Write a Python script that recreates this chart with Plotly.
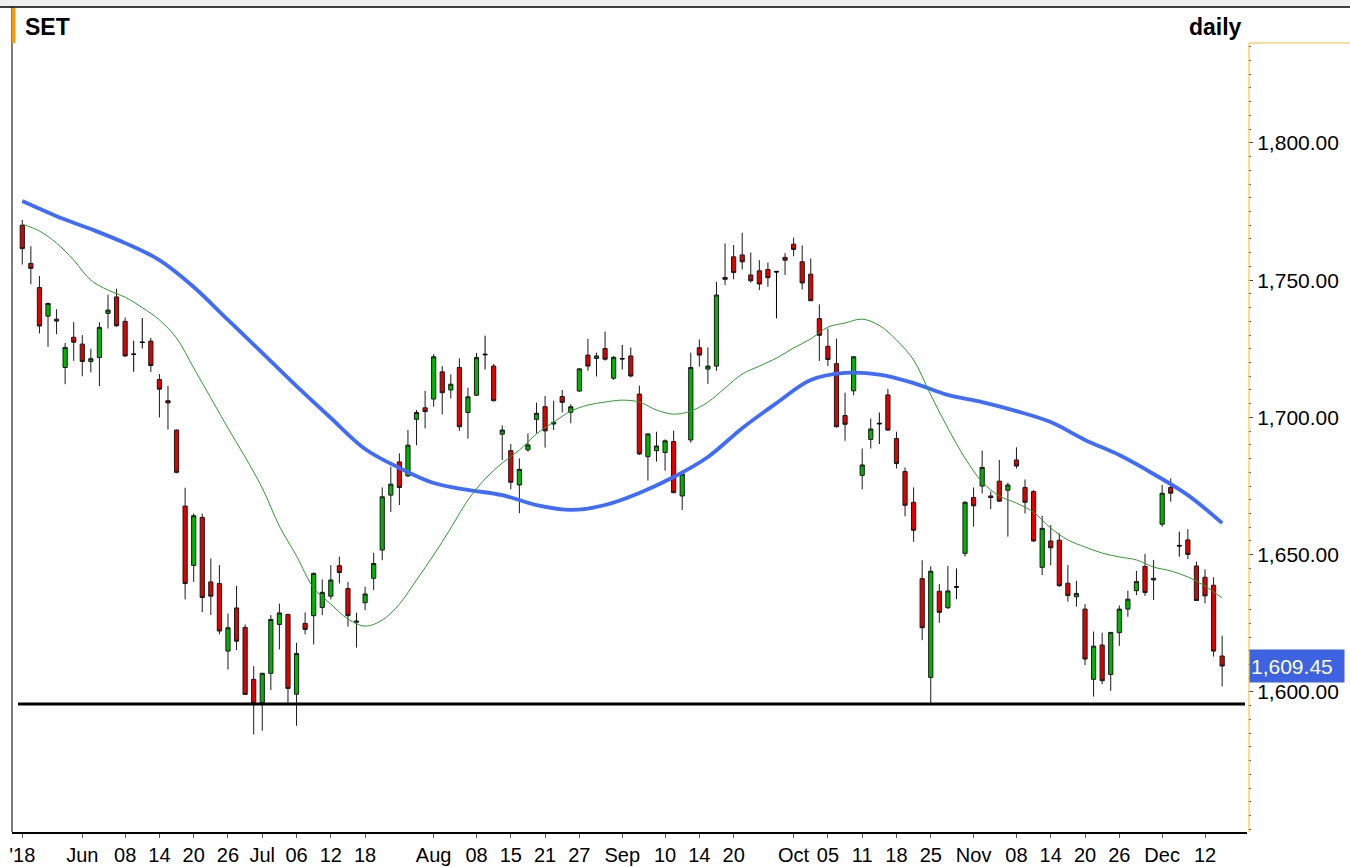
import plotly.graph_objects as go

# ---------------- data ----------------
dates = [
    "2018-05-22", "2018-05-23", "2018-05-24", "2018-05-25", "2018-05-28", "2018-05-30", "2018-05-31",
    "2018-06-01", "2018-06-04", "2018-06-05", "2018-06-06", "2018-06-07", "2018-06-08", "2018-06-11",
    "2018-06-12", "2018-06-13", "2018-06-14", "2018-06-15", "2018-06-18", "2018-06-19", "2018-06-20",
    "2018-06-21", "2018-06-22", "2018-06-25", "2018-06-26", "2018-06-27", "2018-06-28", "2018-06-29",
    "2018-07-02", "2018-07-03", "2018-07-04", "2018-07-05", "2018-07-06", "2018-07-09", "2018-07-10",
    "2018-07-11", "2018-07-12", "2018-07-13", "2018-07-16", "2018-07-17", "2018-07-18", "2018-07-19",
    "2018-07-20", "2018-07-23", "2018-07-24", "2018-07-25", "2018-07-26", "2018-07-31",
    "2018-08-01", "2018-08-02", "2018-08-03", "2018-08-06", "2018-08-07", "2018-08-08", "2018-08-09",
    "2018-08-10", "2018-08-14", "2018-08-15", "2018-08-16", "2018-08-17", "2018-08-20", "2018-08-21",
    "2018-08-22", "2018-08-23", "2018-08-24", "2018-08-27", "2018-08-28", "2018-08-29", "2018-08-30",
    "2018-08-31",
    "2018-09-03", "2018-09-04", "2018-09-05", "2018-09-06", "2018-09-07", "2018-09-10", "2018-09-11",
    "2018-09-12", "2018-09-13", "2018-09-14", "2018-09-17", "2018-09-18", "2018-09-19", "2018-09-20",
    "2018-09-21", "2018-09-24", "2018-09-25", "2018-09-26", "2018-09-27", "2018-09-28",
    "2018-10-01", "2018-10-02", "2018-10-03", "2018-10-04", "2018-10-05", "2018-10-08", "2018-10-09",
    "2018-10-10", "2018-10-11", "2018-10-12", "2018-10-16", "2018-10-17", "2018-10-18", "2018-10-19",
    "2018-10-22", "2018-10-24", "2018-10-25", "2018-10-26", "2018-10-29", "2018-10-30", "2018-10-31",
    "2018-11-01", "2018-11-02", "2018-11-05", "2018-11-06", "2018-11-07", "2018-11-08", "2018-11-09",
    "2018-11-12", "2018-11-13", "2018-11-14", "2018-11-15", "2018-11-16", "2018-11-19", "2018-11-20",
    "2018-11-21", "2018-11-22", "2018-11-23", "2018-11-26", "2018-11-27", "2018-11-28", "2018-11-29",
    "2018-11-30",
    "2018-12-03", "2018-12-04", "2018-12-06", "2018-12-07", "2018-12-11", "2018-12-12", "2018-12-13",
    "2018-12-14",
]

opens = [
    1770.0, 1756.1, 1747.3, 1736.9, 1735.8, 1718.2, 1729.2, 1726.7, 1720.4, 1721.8,
    1737.9, 1743.9, 1735.0, 1723.1, 1727.5, 1727.8, 1713.8, 1706.1, 1695.4, 1667.7,
    1646.1, 1663.6, 1640.1, 1639.5, 1614.9, 1630.6, 1623.5, 1604.6, 1596.1, 1606.8,
    1624.6, 1628.2, 1599.2, 1625.0, 1627.8, 1630.8, 1634.9, 1646.0, 1637.7, 1625.4,
    1632.5, 1641.4, 1651.7, 1671.7, 1683.8, 1678.7, 1699.3, 1703.5, 1706.7, 1716.6,
    1710.0, 1718.2, 1701.8, 1708.1, 1722.8, 1718.7, 1693.9, 1687.9, 1675.4, 1688.2,
    1699.3, 1703.9, 1697.6, 1707.6, 1701.9, 1709.6, 1722.7, 1721.5, 1725.1, 1714.3,
    1721.3, 1722.4, 1708.5, 1685.7, 1687.9, 1687.2, 1691.2, 1671.4, 1691.8, 1725.4,
    1717.6, 1718.7, 1751.0, 1758.5, 1759.2, 1751.9, 1753.4, 1753.9, 1753.2, 1758.3,
    1763.1, 1756.7, 1752.2, 1736.0, 1725.9, 1719.6, 1700.7, 1709.7, 1678.9, 1692.0,
    1697.9, 1708.2, 1692.3, 1680.3, 1669.1, 1641.3, 1605.3, 1636.7, 1630.7, 1638.4,
    1650.5, 1670.8, 1675.0, 1671.4, 1676.8, 1673.5, 1684.5, 1674.5, 1673.0, 1645.4,
    1655.0, 1655.3, 1639.6, 1634.7, 1630.2, 1604.6, 1617.1, 1606.4, 1621.6, 1630.2,
    1636.9, 1645.7, 1640.8, 1661.1, 1674.5, 1653.4, 1655.4, 1645.9, 1641.8, 1638.9,
    1613.1,
]
highs = [
    1771.9, 1762.4, 1751.5, 1741.9, 1739.4, 1727.1, 1734.7, 1730.0, 1725.0, 1734.7,
    1744.7, 1746.9, 1736.4, 1727.9, 1736.2, 1729.0, 1715.8, 1711.5, 1695.6, 1674.4,
    1665.0, 1665.0, 1648.6, 1646.2, 1628.6, 1638.6, 1624.6, 1609.4, 1607.0, 1628.0,
    1632.2, 1628.6, 1617.9, 1629.0, 1643.5, 1641.0, 1646.2, 1649.3, 1640.1, 1628.9,
    1638.3, 1650.7, 1674.5, 1682.0, 1686.9, 1695.4, 1702.7, 1709.7, 1723.1, 1718.7,
    1715.7, 1721.5, 1710.8, 1723.5, 1729.8, 1719.5, 1697.1, 1690.3, 1685.1, 1694.2,
    1705.4, 1707.8, 1706.1, 1710.0, 1704.8, 1717.9, 1728.6, 1723.6, 1731.3, 1722.4,
    1726.4, 1725.5, 1711.6, 1694.2, 1694.8, 1692.0, 1695.2, 1679.6, 1723.6, 1728.4,
    1725.5, 1749.4, 1763.4, 1762.8, 1767.3, 1760.1, 1757.3, 1756.4, 1753.4, 1759.8,
    1765.5, 1762.7, 1757.9, 1741.2, 1732.4, 1728.7, 1709.0, 1722.3, 1688.7, 1699.6,
    1701.8, 1710.4, 1694.8, 1681.8, 1674.5, 1648.0, 1645.8, 1639.3, 1645.9, 1645.0,
    1669.5, 1674.5, 1687.9, 1673.0, 1684.5, 1676.2, 1689.1, 1677.4, 1673.5, 1664.2,
    1660.8, 1657.8, 1646.2, 1640.5, 1632.0, 1622.0, 1621.6, 1621.7, 1631.5, 1636.9,
    1644.1, 1650.3, 1648.1, 1675.4, 1677.8, 1658.4, 1659.3, 1647.5, 1644.7, 1641.8,
    1620.5,
]
lows = [
    1755.7, 1748.5, 1730.6, 1725.7, 1730.3, 1712.1, 1720.6, 1715.0, 1716.4, 1711.4,
    1732.4, 1733.0, 1722.1, 1716.6, 1725.1, 1716.6, 1700.0, 1695.6, 1679.6, 1633.7,
    1640.1, 1629.1, 1628.0, 1621.0, 1608.2, 1615.3, 1598.9, 1584.5, 1585.9, 1600.7,
    1615.5, 1595.8, 1587.7, 1621.0, 1617.3, 1628.0, 1633.7, 1639.5, 1623.8, 1616.2,
    1629.8, 1637.1, 1648.0, 1665.6, 1668.1, 1678.4, 1689.9, 1696.0, 1703.9, 1701.1,
    1706.9, 1695.1, 1692.3, 1707.9, 1717.5, 1705.8, 1684.5, 1673.8, 1665.1, 1687.5,
    1694.2, 1689.0, 1695.4, 1701.8, 1697.9, 1709.4, 1717.0, 1714.9, 1720.7, 1713.7,
    1717.5, 1714.6, 1686.3, 1677.0, 1683.9, 1680.6, 1672.4, 1666.3, 1690.8, 1718.5,
    1712.2, 1717.0, 1748.2, 1750.3, 1753.9, 1749.1, 1746.4, 1747.6, 1736.1, 1751.9,
    1758.7, 1746.6, 1742.5, 1720.6, 1718.7, 1696.3, 1691.5, 1708.1, 1673.8, 1688.7,
    1690.3, 1695.1, 1681.4, 1664.0, 1654.7, 1618.9, 1595.8, 1625.2, 1630.2, 1633.8,
    1649.3, 1660.2, 1672.3, 1666.6, 1669.3, 1656.6, 1681.4, 1665.0, 1654.7, 1642.6,
    1646.2, 1638.3, 1632.9, 1631.1, 1609.8, 1598.3, 1602.9, 1600.4, 1616.8, 1627.4,
    1635.3, 1635.0, 1633.5, 1660.2, 1669.3, 1649.3, 1648.4, 1633.3, 1632.3, 1612.9,
    1602.0,
]
closes = [
    1761.5, 1754.3, 1733.3, 1741.5, 1735.1, 1725.5, 1727.4, 1720.4, 1721.4, 1732.8,
    1739.1, 1733.4, 1722.4, 1723.0, 1727.3, 1718.9, 1710.3, 1705.3, 1680.0, 1639.5,
    1664.2, 1634.4, 1634.9, 1622.2, 1623.4, 1618.5, 1599.1, 1595.8, 1606.8, 1626.4,
    1628.8, 1601.3, 1614.0, 1622.8, 1643.2, 1636.3, 1640.8, 1643.5, 1627.8, 1625.8,
    1635.7, 1646.8, 1671.1, 1675.7, 1674.5, 1689.9, 1701.8, 1702.1, 1722.1, 1709.0,
    1712.1, 1696.6, 1707.5, 1721.8, 1723.0, 1706.1, 1695.4, 1676.4, 1681.1, 1690.0,
    1701.5, 1695.1, 1698.2, 1705.5, 1703.9, 1717.7, 1718.7, 1722.4, 1721.2, 1721.9,
    1721.4, 1715.1, 1686.7, 1694.0, 1689.6, 1691.5, 1672.6, 1679.4, 1718.2, 1722.7,
    1718.7, 1744.6, 1750.3, 1752.8, 1756.7, 1749.8, 1748.6, 1750.9, 1753.0, 1757.3,
    1761.2, 1749.0, 1742.5, 1729.9, 1721.1, 1696.6, 1697.5, 1722.1, 1682.7, 1695.8,
    1697.7, 1695.4, 1683.2, 1668.0, 1658.9, 1623.4, 1644.0, 1629.0, 1636.8, 1638.2,
    1669.1, 1667.8, 1681.8, 1670.8, 1669.5, 1675.4, 1682.3, 1669.1, 1655.0, 1659.6,
    1652.5, 1638.7, 1635.1, 1635.9, 1612.0, 1616.7, 1604.1, 1621.7, 1630.2, 1633.8,
    1640.2, 1636.2, 1641.4, 1672.4, 1672.4, 1653.2, 1650.1, 1633.3, 1635.0, 1614.9,
    1609.45,
]

# short moving average (thin green), read every 2nd session
ma_fast = [
    1770.4, 1767.9, 1763.5, 1757.3, 1750.0, 1746.4, 1743.8, 1740.0, 1735.5, 1728.9,
    1718.0, 1707.1, 1696.1, 1685.6, 1674.3, 1660.4, 1649.5, 1637.9, 1632.0, 1626.6,
    1624.0, 1626.2, 1632.0, 1640.8, 1649.9, 1659.7, 1669.9, 1677.6, 1683.4, 1688.1,
    1694.0, 1698.3, 1702.3, 1704.5, 1705.6, 1706.3, 1705.6, 1702.7, 1701.2, 1702.3,
    1705.6, 1710.7, 1715.8, 1718.7, 1721.6, 1725.3, 1728.6, 1732.9, 1734.4, 1735.8,
    1733.5, 1728.2, 1720.9, 1708.2, 1696.1, 1685.2, 1676.5, 1671.4, 1668.8, 1665.5,
    1659.7, 1655.4, 1652.8, 1650.6, 1649.2, 1648.1, 1645.5, 1644.1, 1641.9, 1638.6,
    1634.2,
]
# long moving average (thick blue), read every 4th session
ma_slow = [
    1778.8, 1773.3, 1768.6, 1763.5, 1757.3, 1747.5, 1735.5, 1723.5, 1711.4, 1699.8,
    1688.5, 1681.6, 1676.1, 1673.6, 1671.7, 1668.1, 1666.3, 1668.1, 1672.5, 1678.3,
    1685.6, 1696.1, 1705.2, 1713.6, 1716.2, 1715.6, 1712.5, 1708.2, 1705.6, 1702.3,
    1698.3, 1691.8, 1686.3, 1679.4, 1671.7, 1661.5,
]

support_level = 1595.6

tick_dates = [
    "2018-05-22", "2018-06-01", "2018-06-08", "2018-06-14", "2018-06-20", "2018-06-26",
    "2018-07-02", "2018-07-06", "2018-07-12", "2018-07-18",
    "2018-08-01", "2018-08-08", "2018-08-15", "2018-08-21", "2018-08-27",
    "2018-09-03", "2018-09-10", "2018-09-14", "2018-09-20",
    "2018-10-01", "2018-10-05", "2018-10-11", "2018-10-18", "2018-10-25",
    "2018-11-01", "2018-11-08", "2018-11-14", "2018-11-20", "2018-11-26",
    "2018-12-03", "2018-12-12",
]
tick_labels = [
    "'18", "Jun", "08", "14", "20", "26",
    "Jul", "06", "12", "18",
    "Aug", "08", "15", "21", "27",
    "Sep", "10", "14", "20",
    "Oct", "05", "11", "18", "25",
    "Nov", "08", "14", "20", "26",
    "Dec", "12",
]
y_ticks = [1600, 1650, 1700, 1750, 1800]

# ---------------- figure ----------------
FONT = "Liberation Sans, Arial, sans-serif"
W, H = 1350, 867
ML, MR, MT, MB = 12, 103, 7, 35
PW, PH = W - ML - MR, H - MT - MB


def px_x(px):
    return (px - ML) / PW


def px_y(py):
    return (H - MB - py) / PH


is_doji = [abs(o - c) < 0.3 for o, c in zip(opens, closes)]


def pick(seq, flag):
    return [v for v, d in zip(seq, is_doji) if d == flag]


fig = go.Figure()

fig.add_trace(go.Candlestick(
    x=pick(dates, False), open=pick(opens, False), high=pick(highs, False),
    low=pick(lows, False), close=pick(closes, False),
    increasing=dict(fillcolor="#00b400", line=dict(color="#1a1a1a", width=1)),
    decreasing=dict(fillcolor="#e00000", line=dict(color="#1a1a1a", width=1)),
    whiskerwidth=0))
fig.add_trace(go.Candlestick(
    x=pick(dates, True), open=pick(opens, True), high=pick(highs, True),
    low=pick(lows, True), close=pick(closes, True),
    increasing=dict(fillcolor="#000000", line=dict(color="#000000", width=1)),
    decreasing=dict(fillcolor="#000000", line=dict(color="#000000", width=1)),
    whiskerwidth=0))

fig.add_trace(go.Scatter(
    x=dates[::4], y=ma_slow, mode="lines", line=dict(color="#3f6cff", width=3.8, shape="spline"),
    hoverinfo="skip"))
fig.add_trace(go.Scatter(
    x=dates[::2], y=ma_fast, mode="lines", line=dict(color="#2f9a2f", width=1, shape="spline"),
    hoverinfo="skip"))

shapes = [
    # support line
    dict(type="line", xref="paper", yref="y", x0=px_x(18), x1=px_x(1245),
         y0=support_level, y1=support_level, line=dict(color="#000000", width=3)),
    # top grey band and border
    dict(type="rect", xref="paper", yref="paper", x0=px_x(0), x1=px_x(W), y0=px_y(7), y1=px_y(0),
         fillcolor="#f0f0f0", line=dict(width=0), layer="below"),
    dict(type="line", xref="paper", yref="paper", x0=px_x(0), x1=px_x(W), y0=px_y(7), y1=px_y(7),
         line=dict(color="#000000", width=1.5)),
    # left border
    dict(type="line", xref="paper", yref="paper", x0=0, x1=0, y0=0, y1=1,
         line=dict(color="#000000", width=1)),
    # orange marker beside title
    dict(type="rect", xref="paper", yref="paper", x0=px_x(12), x1=px_x(15.5), y0=px_y(43), y1=px_y(8),
         fillcolor="#ff9900", line=dict(width=0)),
    # yellow price-scale frame
    dict(type="line", xref="paper", yref="paper", x0=px_x(1249), x1=px_x(1249), y0=0, y1=px_y(43),
         line=dict(color="#f3d27a", width=1.5)),
    dict(type="line", xref="paper", yref="paper", x0=px_x(1249), x1=px_x(W), y0=px_y(43), y1=px_y(43),
         line=dict(color="#f3d27a", width=1.5)),
]

annotations = [
    dict(text="<b>SET</b>", xref="paper", yref="paper", x=px_x(23), y=px_y(12),
         xanchor="left", yanchor="top", showarrow=False,
         font=dict(family=FONT, size=23, color="#000000")),
    dict(text="<b>daily</b>", xref="paper", yref="paper", x=px_x(1244), y=px_y(12),
         xanchor="right", yanchor="top", showarrow=False,
         font=dict(family=FONT, size=23, color="#000000")),
    dict(text=f"{closes[-1]:,.2f}", xref="paper", yref="y", x=px_x(1249), y=closes[-1],
         xanchor="left", yanchor="middle", showarrow=False, bgcolor="#3d63e0",
         width=92, height=30, align="left",
         font=dict(family=FONT, size=21, color="#ffffff")),
]

minor_ticks = list(range(1550, 1836, 5))

fig.update_layout(
    width=W, height=H, margin=dict(l=ML, r=MR, t=MT, b=MB, autoexpand=False),
    paper_bgcolor="#ffffff", plot_bgcolor="#ffffff", showlegend=False,
    shapes=shapes, annotations=annotations,
    xaxis=dict(
        type="category", categoryorder="array", categoryarray=dates,
        range=[-1.2, 142.9], rangeslider=dict(visible=False), automargin=False,
        tickmode="array", tickvals=tick_dates, ticktext=tick_labels,
        tickfont=dict(family=FONT, size=20, color="#000000"), tickangle=0,
        showgrid=False, zeroline=False, showline=True, linecolor="#000000", linewidth=1.5,
        ticks="outside", ticklen=4, tickcolor="#555555",
    ),
    yaxis=dict(
        side="right", range=[1549.0, 1849.5], tickmode="array", tickvals=y_ticks,
        automargin=False,
        tickformat=",.2f", tickfont=dict(family=FONT, size=21, color="#000000"),
        showgrid=False, zeroline=False, showline=False,
        ticks="outside", ticklen=5, tickcolor="#444444",
        minor=dict(tickmode="array", tickvals=minor_ticks, ticks="outside", ticklen=3,
                   tickcolor="#444444"),
    ),
)

fig.write_html("out.html", config={"displayModeBar": False},
               post_script="document.body.style.margin='0';document.body.style.overflow='hidden';")
